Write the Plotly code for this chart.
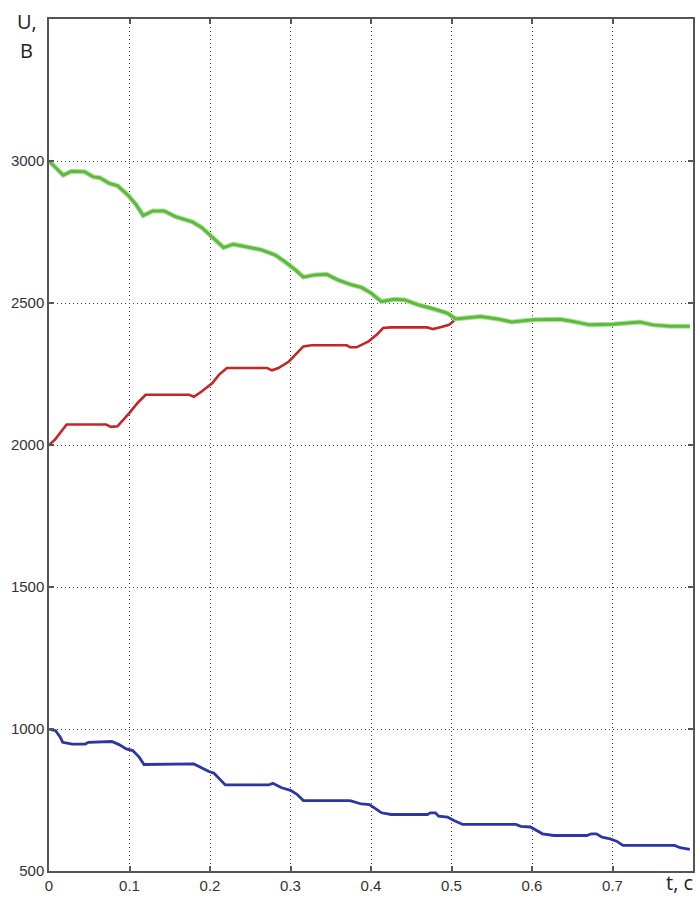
import plotly.graph_objects as go

# Green curve
t_green = [0, 0.0177, 0.028, 0.044, 0.055, 0.063, 0.075, 0.085, 0.098, 0.108, 0.117, 0.129, 0.143,
           0.157, 0.178, 0.19, 0.202, 0.217, 0.229, 0.248, 0.264, 0.281, 0.293, 0.306, 0.316, 0.33,
           0.345, 0.359, 0.376, 0.388, 0.4, 0.413, 0.429, 0.442, 0.458, 0.479, 0.495, 0.505, 0.52,
           0.536, 0.557, 0.575, 0.602, 0.635, 0.651, 0.672, 0.7, 0.734, 0.75, 0.771, 0.796]
u_green = [3000, 2950, 2964, 2962, 2944, 2941, 2921, 2913, 2880, 2847, 2808, 2824, 2824,
           2804, 2786, 2765, 2734, 2695, 2707, 2695, 2687, 2669, 2646, 2617, 2591, 2599,
           2601, 2581, 2564, 2555, 2535, 2505, 2513, 2511, 2494, 2479, 2464, 2444, 2449,
           2452, 2444, 2433, 2441, 2443, 2435, 2423, 2425, 2433, 2423, 2418, 2418]

# Red curve
t_red = [0, 0.0074, 0.0219, 0.071, 0.077, 0.085, 0.1, 0.11, 0.12, 0.174, 0.18, 0.19, 0.203, 0.211,
         0.221, 0.248, 0.271, 0.277, 0.285, 0.298, 0.306, 0.316, 0.326, 0.37, 0.374, 0.382, 0.397,
         0.407, 0.415, 0.425, 0.47, 0.477, 0.485, 0.497, 0.505, 0.52, 0.536, 0.557, 0.575, 0.602,
         0.635, 0.651, 0.672, 0.7, 0.734, 0.75, 0.771, 0.796]
u_red = [2000, 2019, 2072, 2072, 2064, 2066, 2113, 2148, 2177, 2177, 2170, 2189, 2218, 2247,
         2271, 2271, 2271, 2263, 2271, 2294, 2318, 2347, 2351, 2351, 2344, 2344, 2365,
         2388, 2412, 2414, 2414, 2408, 2414, 2423, 2443, 2449, 2454, 2444, 2433, 2441,
         2445, 2435, 2423, 2425, 2435, 2423, 2418, 2418]

# Blue curve
t_blue = [0, 0.0082, 0.014, 0.017, 0.029, 0.045, 0.049, 0.078, 0.087, 0.096, 0.104, 0.112, 0.118,
          0.176, 0.18, 0.19, 0.198, 0.205, 0.215, 0.219, 0.273, 0.278, 0.289, 0.3, 0.308, 0.316,
          0.372, 0.375, 0.388, 0.398, 0.406, 0.413, 0.425, 0.47, 0.474, 0.48, 0.484, 0.495, 0.503,
          0.514, 0.58, 0.586, 0.598, 0.605, 0.613, 0.627, 0.668, 0.674, 0.68, 0.687, 0.697, 0.705,
          0.713, 0.777, 0.784, 0.796]
u_blue = [1000, 994, 971, 953, 947, 947, 953, 956, 945, 930, 924, 901, 875,
          875, 877, 863, 851, 844, 813, 803, 803, 809, 793, 784, 770, 748,
          748, 747, 736, 734, 719, 705, 699, 699, 705, 705, 693, 690, 678,
          664, 664, 657, 655, 643, 631, 625, 625, 631, 631, 619, 613, 605,
          590, 590, 582, 576]

x_ticks = [0, 0.1, 0.2, 0.3, 0.4, 0.5, 0.6, 0.7]
x_labels = ["0", "0.1", "0.2", "0.3", "0.4", "0.5", "0.6", "0.7"]
y_ticks = [500, 1000, 1500, 2000, 2500, 3000]
y_labels = ["500", "1000", "1500", "2000", "2500", "3000"]

fig = go.Figure()
fig.add_trace(go.Scatter(x=t_blue, y=u_blue, mode="lines",
                         line=dict(color="#2b36a3", width=2.8), showlegend=False))
fig.add_trace(go.Scatter(x=t_red, y=u_red, mode="lines",
                         line=dict(color="#c42626", width=2.6), showlegend=False))
fig.add_trace(go.Scatter(x=t_green, y=u_green, mode="lines",
                         line=dict(color="#b3e0a2", width=5), showlegend=False, hoverinfo="skip"))
fig.add_trace(go.Scatter(x=t_green, y=u_green, mode="lines",
                         line=dict(color="#5cba3c", width=3), showlegend=False))

axis_common = dict(
    showgrid=True, gridcolor="#444444", griddash="1px,3px", gridwidth=1,
    showline=True, linecolor="#555555", linewidth=1.5, mirror="ticks",
    ticks="inside", ticklen=5, tickcolor="#555555", tickwidth=1.5,
    zeroline=False, tickfont=dict(family="Liberation Sans", size=15, color="#333333"),
)

fig.update_xaxes(range=[0, 0.8], tickvals=x_ticks, ticktext=x_labels, **axis_common)
fig.update_yaxes(range=[500, 3500], tickvals=y_ticks, ticktext=y_labels, **axis_common)

fig.update_layout(
    width=700, height=899,
    margin=dict(l=49, r=5, t=19, b=25),
    plot_bgcolor="white", paper_bgcolor="white",
    annotations=[
        dict(text="U,", xref="paper", yref="paper", x=-0.053, y=0.9975, xanchor="left", yanchor="middle",
             showarrow=False, font=dict(family="Open Sans", size=20, color="#222222")),
        dict(text="B", xref="paper", yref="paper", x=-0.048, y=0.9635, xanchor="left", yanchor="middle",
             showarrow=False, font=dict(family="Open Sans", size=20, color="#222222")),
        dict(text="t, c", xref="paper", yref="paper", x=1.003, y=-0.014, xanchor="right", yanchor="middle",
             showarrow=False, font=dict(family="Open Sans", size=20, color="#222222")),
    ],
)

fig.write_html(
    "out.html",
    config={"displayModeBar": False},
    post_script="document.body.style.margin='0';document.body.style.overflow='hidden';",
)
